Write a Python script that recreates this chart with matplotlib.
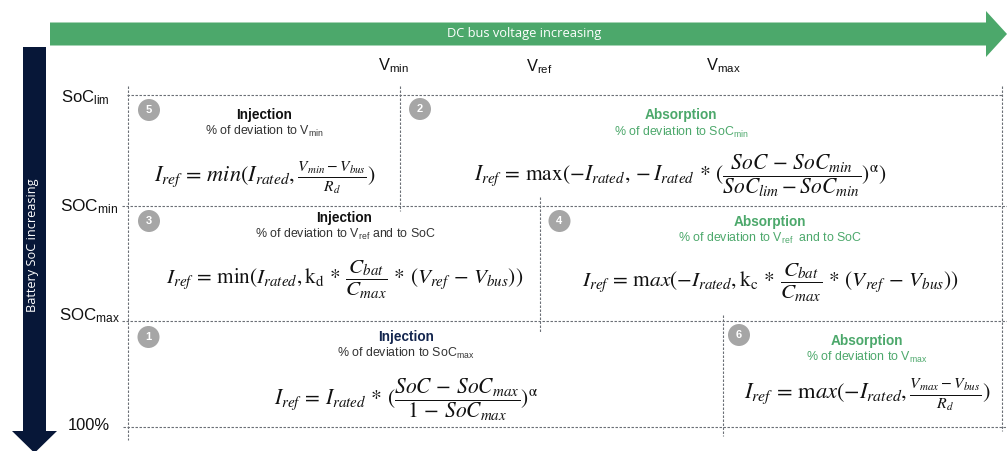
import matplotlib
matplotlib.use("Agg")
import matplotlib.pyplot as plt
from matplotlib.patches import FancyArrow, Circle

plt.rcParams['font.family'] = ['Liberation Sans', 'DejaVu Sans']
plt.rcParams['mathtext.fontset'] = 'custom'
plt.rcParams['mathtext.rm'] = 'Liberation Sans'
plt.rcParams['mathtext.it'] = 'Liberation Sans:italic'
plt.rcParams['mathtext.bf'] = 'Liberation Sans:bold'

GREEN = '#4CA86B'
NAVY = '#071738'
GRAY = '#A6A6A6'
LINE = '#6A6E75'

x_axis_title = 'DC bus voltage increasing'
y_axis_title = 'Battery SoC increasing'
v_labels = [r'$\mathrm{V}_{\mathrm{min}}$', r'$\mathrm{V}_{\mathrm{ref}}$', r'$\mathrm{V}_{\mathrm{max}}$']
soc_labels = [r'$\mathrm{SoC}_{\mathrm{lim}}$', r'$\mathrm{SOC}_{\mathrm{min}}$', r'$\mathrm{SOC}_{\mathrm{max}}$', '100%']
zones = ['5', '2', '3', '4', '1', '6']
titles = ['Injection', 'Absorption', 'Injection', 'Absorption', 'Injection', 'Absorption']
subtitles = [
    r'% of deviation to V$_{\mathrm{min}}$',
    r'% of deviation to SoC$_{\mathrm{min}}$',
    r'% of deviation to V$_{\mathrm{ref}}$ and to SoC',
    r'% of deviation to V$_{\mathrm{ref}}$  and to SoC',
    r'% of deviation to SoC$_{\mathrm{max}}$',
    r'% of deviation to V$_{\mathrm{max}}$',
]
formulas = [
    r'$I_{ref}\,=\,min(I_{rated},\frac{V_{min}-V_{bus}}{R_d})$',
    r'$I_{ref}\,=\,\mathrm{max}(-I_{rated},-I_{rated}\,*\,(\dfrac{SoC\,-\,SoC_{min}}{SoC_{lim}-SoC_{min}})^{\mathrm{\alpha}})$',
    r'$I_{ref}\,=\,\mathrm{min}(I_{rated},\mathrm{k_d}\,*\,\dfrac{C_{bat}}{C_{max}}\,*\,(V_{ref}\,-\,V_{bus}))$',
    r'$I_{ref}\,=\,\mathrm{m}ax(-I_{rated},\mathrm{k_c}\,*\,\dfrac{C_{bat}}{C_{max}}\,*\,(V_{ref}\,-\,V_{bus}))$',
    r'$I_{ref}\,=\,I_{rated}\,*\,(\dfrac{SoC\,-\,SoC_{max}}{1\,-\,SoC_{max}})^{\mathrm{\alpha}}$',
    r'$I_{ref}\,=\,\mathrm{m}ax(-I_{rated},\frac{V_{max}-V_{bus}}{R_d})$',
]

fig = plt.figure(figsize=(10.07, 4.51), dpi=100)
ax = fig.add_axes([0, 0, 1, 1])
ax.set_xlim(0, 1007)
ax.set_ylim(451, 0)
ax.axis('off')

# Axis arrows
ax.add_patch(FancyArrow(50, 34, 957, 0, width=23, head_width=46, head_length=21,
                        length_includes_head=True, color=GREEN, lw=0))
ax.add_patch(FancyArrow(34.5, 47, 0, 406, width=23, head_width=45, head_length=22,
                        length_includes_head=True, color=NAVY, lw=0))
ax.text(524, 34, x_axis_title, color='white', fontsize=9.3, family='Open Sans', ha='center', va='center')
ax.text(33, 245, y_axis_title, color='white', fontsize=9.2, family='Open Sans', ha='center', va='center', rotation=90)

# Grid of dashed lines
dash = dict(color=LINE, lw=0.8, ls=(0, (2.2, 1.4)))
for y, x0, x1 in [(95, 127, 1003), (206, 122, 1007), (321, 122, 1007), (427, 123, 1007)]:
    ax.plot([x0, x1], [y, y], **dash)
for x, y0, y1 in [(128, 86, 440), (400, 86, 211), (540, 197, 333), (723, 315, 436), (1002, 86, 431)]:
    ax.plot([x, x], [y0, y1], **dash)

# Axis labels
for s, (x, y) in zip(v_labels, [(393, 66), (539.5, 67), (723, 66)]):
    ax.text(x, y, s, fontsize=11.8, color='#111111', ha='center', va='center')
for s, (x, y, fs) in zip(soc_labels, [(85, 98, 12), (89, 207, 12.4), (89, 316, 12.2), (89, 425, 11.9)]):
    ax.text(x, y, s, fontsize=fs, color='#111111', ha='center', va='center')

# Zones
badge_xy = [(149, 110), (420, 109), (149, 221), (559.5, 221), (148.5, 337), (739, 335)]
title_xy = [(264, 115), (680.5, 115), (344.5, 218), (770, 222), (406, 337), (867, 341)]
sub_xy = [(264, 131), (681, 132), (345, 234), (770, 238), (406, 353), (867, 357)]
form_xy = [(264.5, 177.5), (680, 176), (345, 279.5), (770, 283), (406, 399.5), (867, 394.5)]
form_size = [16, 15.5, 15.3, 15.4, 15.5, 16.2]
title_colors = ['#111111', GREEN, '#111111', GREEN, '#14264F', GREEN]
sub_colors = ['#333333', GREEN, '#333333', GREEN, '#333333', GREEN]

for i, z in enumerate(zones):
    ax.add_patch(Circle(badge_xy[i], 11, color=GRAY, lw=0))
    ax.text(*badge_xy[i], z, color='white', fontsize=8, fontweight='bold', ha='center', va='center')
    ax.text(*title_xy[i], titles[i], color=title_colors[i], fontsize=9.8, fontweight='bold', ha='center', va='center')
    ax.text(*sub_xy[i], subtitles[i], color=sub_colors[i], fontsize=8.9, ha='center', va='center')
    ax.text(*form_xy[i], formulas[i], color='#111111', fontsize=form_size[i], math_fontfamily='stix', ha='center', va='center')

fig.savefig('out.png', dpi=100)
